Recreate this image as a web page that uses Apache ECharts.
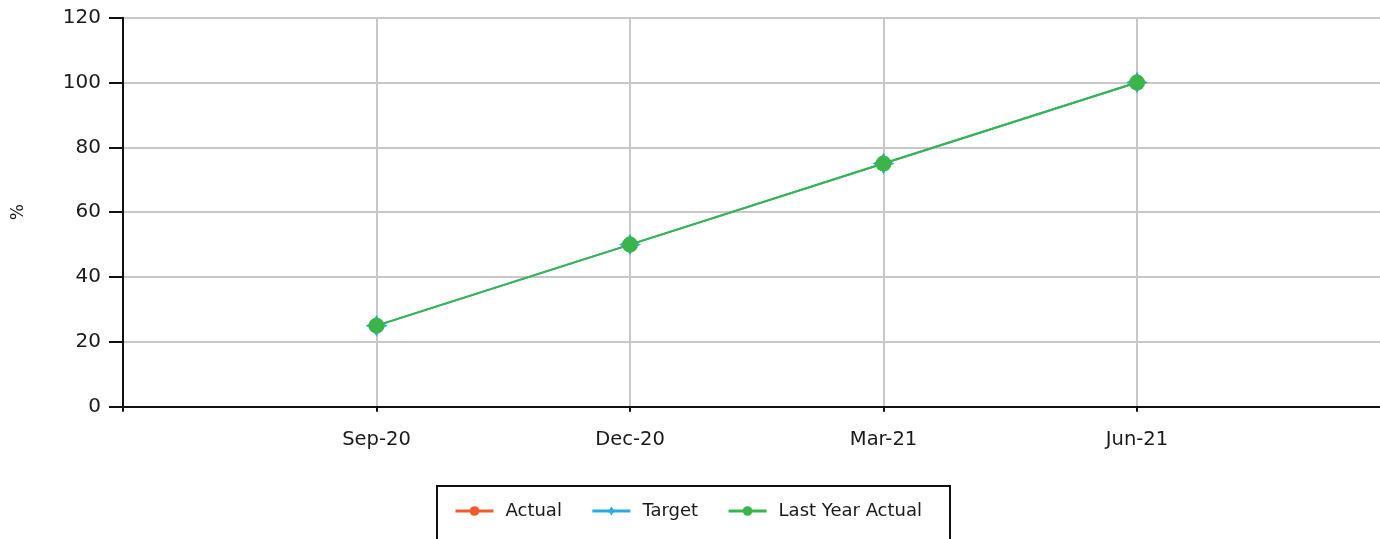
<!DOCTYPE html>
<html>
<head>
<meta charset="utf-8">
<style>
  html, body { margin: 0; padding: 0; background: #fff; }
  #chart { width: 1380px; height: 539px; }
</style>
<script src="https://cdn.jsdelivr.net/npm/echarts@6/dist/echarts.min.js"></script>
</head>
<body>
<div id="chart"></div>
<script>
// Quarter labels (blank slots pad the axis on both sides)
const categories = ['', 'Sep-20', 'Dec-20', 'Mar-21', 'Jun-21', ''];

// Percent values per quarter
const actual = [null, null, null, null, null, null];
const target = [null, 25, 50, 75, 100, null];
const lastYearActual = [null, 25, 50, 75, 100, null];

// Y axis range
const yMin = 0;
const yMax = 120;
const yStep = 20;

const FONT = 'DejaVu Sans';
const TEXT = '#1a1a1a';

// four-point star used as the target marker
const STAR = 'path://M0,-10 L3.4,-3.4 L10,0 L3.4,3.4 L0,10 L-3.4,3.4 L-10,0 L-3.4,-3.4 Z';

const chart = echarts.init(document.getElementById('chart'), null, { renderer: 'canvas' });

chart.setOption({
  animation: false,
  backgroundColor: '#fff',
  // plot runs slightly past the right edge of the canvas
  grid: {
    left: 123, width: 1267.5, top: 17.7, height: 389,
    containLabel: false,
    outerBoundsMode: 'none'
  },
  legend: {
    left: 437,
    top: 486,
    orient: 'horizontal',
    borderColor: '#111',
    borderWidth: 2,
    padding: [16, 28, 40, 17],
    itemWidth: 38,
    itemHeight: 12,
    itemGap: 29,
    lineStyle: { width: 3 },
    textStyle: { fontFamily: FONT, fontSize: 18, color: TEXT, padding: [0, 0, 0, 7] },
    data: ['Actual', 'Target', 'Last Year Actual']
  },
  xAxis: {
    type: 'category',
    data: categories,
    boundaryGap: false,
    axisLine: { lineStyle: { color: '#111', width: 2 } },
    axisTick: { show: true, length: 5, lineStyle: { color: '#111', width: 2 } },
    axisLabel: { fontFamily: FONT, fontSize: 19.5, color: TEXT, margin: 23, interval: 0 },
    splitLine: { show: true, lineStyle: { color: '#c8c8c8', width: 2 } }
  },
  yAxis: {
    type: 'value',
    min: yMin,
    max: yMax,
    interval: yStep,
    name: '%',
    nameLocation: 'middle',
    nameRotate: 90,
    nameGap: 96,
    nameTextStyle: { fontFamily: FONT, fontSize: 17, color: TEXT },
    axisLine: { show: true, lineStyle: { color: '#111', width: 2 } },
    axisTick: { show: true, length: 14, lineStyle: { color: '#111', width: 2 } },
    axisLabel: { fontFamily: FONT, fontSize: 20, color: TEXT, margin: 22 },
    splitLine: { show: true, lineStyle: { color: '#c8c8c8', width: 2 } }
  },
  series: [
    {
      name: 'Actual',
      type: 'line',
      data: actual,
      color: '#f15a2b',
      symbol: 'circle',
      symbolSize: 9,
      lineStyle: { width: 3 }
    },
    {
      name: 'Target',
      type: 'line',
      data: target,
      color: '#29abe2',
      symbol: STAR,
      symbolSize: 22,
      lineStyle: { width: 2 },
      z: 2
    },
    {
      name: 'Last Year Actual',
      type: 'line',
      data: lastYearActual,
      color: '#3bb54a',
      symbol: 'circle',
      symbolSize: 16,
      lineStyle: { width: 2 },
      z: 3
    }
  ]
});
</script>
</body>
</html>
